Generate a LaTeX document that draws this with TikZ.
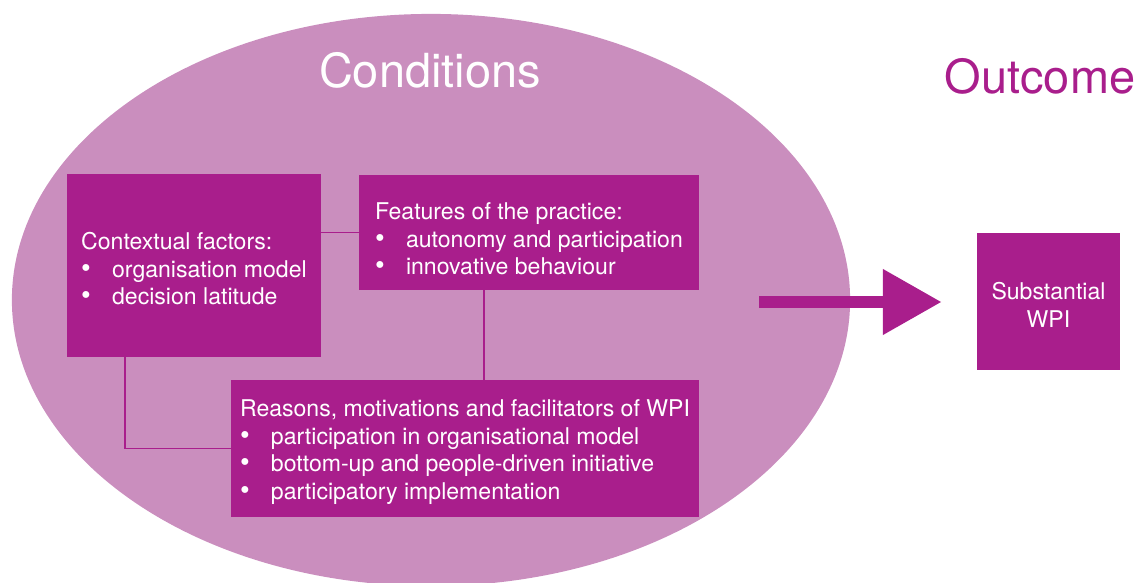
\documentclass[tikz,border=0pt]{standalone}
\usepackage{fontspec}
\setmainfont{TeX Gyre Heros}
\usetikzlibrary{shapes.geometric,arrows.meta}
\definecolor{wpimag}{RGB}{169,30,140}
\definecolor{wpilight}{RGB}{202,142,190}
\newcommand{\bul}{\makebox[22pt][l]{\scalebox{1.2}{\textbullet}}}
\newcommand{\gap}{\rule{0pt}{17pt}}

\begin{document}
\begin{tikzpicture}[x=0.025cm,y=-0.025cm]
                        \tikzstyle{box}=[fill=wpimag,text=white,align=left,inner sep=0pt,font=\fontsize{16.4}{19.6}\selectfont]
                        \tikzstyle{title}=[font=\fontsize{33.4}{40}\selectfont,anchor=base]
                        \tikzstyle{link}=[draw=wpimag,line width=1.1pt]
                        \tikzstyle{bigarrow}=[draw=wpimag,line width=0.3cm,-{Triangle[length=1.45cm,width=1.65cm,line width=0pt]}]
                        \useasboundingbox (0,0) rectangle (1139,583);
                        \node[ellipse,fill=wpilight,inner sep=0pt,minimum width=20.95cm,minimum height=14.3cm] (cond) at (431,300) {};
                        \node[title,text=white] (condtitle) at (430,88) {Conditions};
                        \node[title,text=wpimag] (outtitle) at (1040,94) {Outcome};
                        \node[box,minimum width=6.35cm,minimum height=4.575cm] (ctx) at (194,265.5)
                            {\gap Contextual factors:\\
                             \bul organisation model\\
                             \bul decision latitude};
                        \node[box,minimum width=8.5cm,minimum height=2.875cm] (feat) at (529,232.5)
                            {\rule{0pt}{21pt}Features of the practice:\\
                             \bul autonomy and participation\\
                             \bul innovative behaviour};
                        \node[box,minimum width=11.7cm,minimum height=3.425cm] (reas) at (465,448.5)
                            {\gap Reasons, motivations and facilitators of WPI\\
                             \bul participation in organisational model\\
                             \bul bottom-up and people-driven initiative\\
                             \bul participatory implementation};
                        \node[box,align=center,minimum width=3.575cm,minimum height=3.425cm] (wpi) at (1048.5,301.5)
                            {\gap Substantial\\WPI};
                        \draw[link] (feat.west) -- (feat.west -| ctx.east);
                        \draw[link] ([xshift=-1.125cm]feat.south) -- ([xshift=-1.125cm]feat.south |- reas.north);
                        \draw[link] ([xshift=-1.725cm]ctx.south) |- (reas.west);
                        \coordinate (arrowfrom) at (759,302);
                        \coordinate (arrowto) at (941,302);
                        \draw[bigarrow] (arrowfrom) -- (arrowto);
                    \end{tikzpicture}
\end{document}
